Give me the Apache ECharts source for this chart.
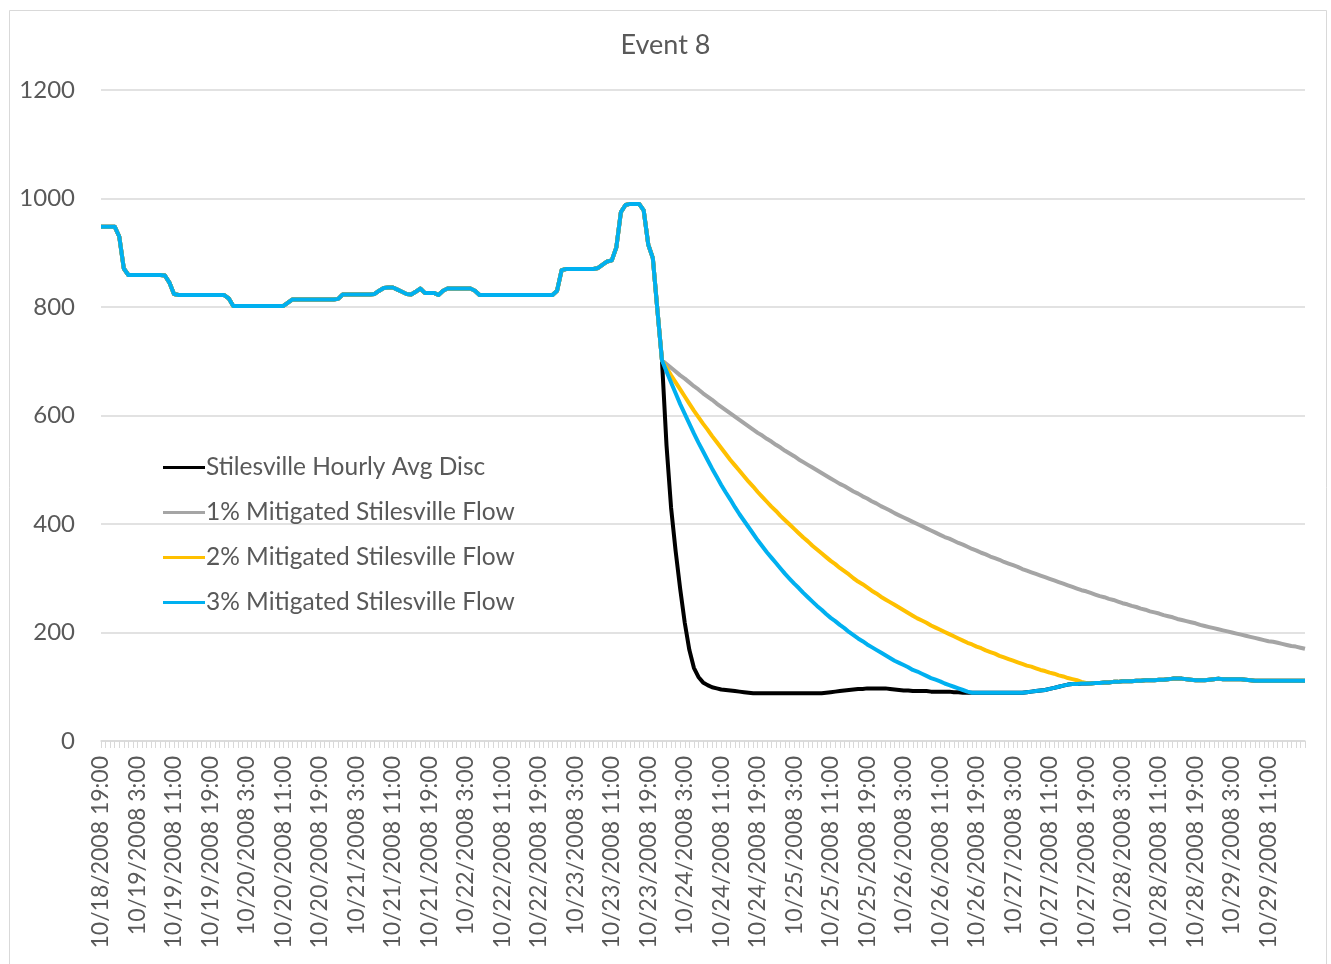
<!DOCTYPE html>
<html>
<head>
<meta charset="utf-8">
<script src="https://cdn.jsdelivr.net/npm/echarts@6/dist/echarts.min.js"></script>
<style>
html,body{margin:0;padding:0;background:#fff;}
#chart{width:1331px;height:964px;}
</style>
</head>
<body>
<div id="chart"></div>
<script>
// ---- data ----
const startLabel = '10/18/2008 19:00';
const hourCount = 265;
const seriesNames = ['Stilesville Hourly Avg Disc','1% Mitigated Stilesville Flow','2% Mitigated Stilesville Flow','3% Mitigated Stilesville Flow'];
const seriesColors = ['#000000','#A5A5A5','#FFC000','#00B0F0'];

const observed = [
948,948,948,948,930,871,859,859,859,859,
859,859,859,859,858,845,824,822,822,822,
822,822,822,822,822,822,822,822,816,802,
802,802,802,802,802,802,802,802,802,802,
802,808,814,814,814,814,814,814,814,814,
814,814,815,823,823,823,823,823,823,823,
824,830,835,836,836,832,828,824,823,828,
834,826,826,826,822,830,834,834,834,834,
834,834,830,822,822,822,822,822,822,822,
822,822,822,822,822,822,822,822,822,822,
830,868,870,870,870,870,870,870,870,872,
878,884,886,910,975,988,990,990,990,978,
915,890,795,702,545,430,350,280,218,168,
135,118,108,103,99,97,95,94,93,92,
91,90,89,88,88,88,88,88,88,88,
88,88,88,88,88,88,88,88,88,89,
90,91,92,93,94,95,96,96,97,97,
97,97,97,96,95,94,93,93,92,92,
92,92,91,91,91,91,91,90,90,89,
89,89,89,89,89,89,89,89,89,89,
89,89,89,90,91,92,93,94,96,98,
100,102,104,105,105,106,106,106,107,107,
108,108,109,109,110,110,110,111,111,112,
112,112,113,113,114,115,115,115,114,113,
112,112,112,113,114,115,114,114,114,114,
114,113,112,111,111,111,111,111,111,111,
111,111,111,111,111
];

// index where the mitigated flows leave the observed hydrograph
const mitigationStart = 123;

const mitigated1Tail = [
702,695,688,681,674,668,661,654,648,641,
635,629,622,616,610,604,598,592,586,580,
574,568,563,557,552,546,541,535,530,525,
519,514,509,504,499,494,489,484,479,474,
470,465,460,456,451,447,442,438,433,429,
425,420,416,412,408,404,400,396,392,388,
384,380,376,373,369,365,362,358,354,351,
347,344,340,337,334,330,327,324,321,317,
314,311,308,305,302,299,296,293,290,287,
284,281,278,276,273,270,267,265,262,260,
257,254,252,249,247,244,242,239,237,235,
232,230,228,225,223,221,219,217,214,212,
210,208,206,204,202,200,198,196,194,192,
190,188,186,184,183,181,179,177,175,174,
172,170
];

const mitigated2Tail = [
702,688,674,661,648,635,622,609,597,585,
574,562,551,540,529,518,508,498,488,478,
469,459,450,441,432,424,415,407,399,391,
383,375,368,360,353,346,339,332,326,319,
313,307,300,294,289,283,277,272,266,261,
256,251,246,241,236,231,226,222,218,213,
209,205,201,197,193,189,185,181,178,174,
171,167,164,161,157,154,151,148,145,142,
139,137,134,131,129,126,124,121,119,116,
114,112,109,107
];

const mitigated3Tail = [
702,681,661,641,621,603,585,567,550,534,
518,502,487,472,458,445,431,418,406,394,
382,370,359,348,338,328,318,308,299,290,
282,273,265,257,249,242,234,227,221,214,
208,201,195,189,184,178,173,168,163,158,
153,148,144,140,136,131,128,124,120,116,
113,110,106,103,100,97,94,91
];

const yTicks = [0,200,400,600,800,1000,1200];

// ---- build ----
function pad2(n){return (n<10?'0':'')+n;}
const categories = [];
(function(){
  const base = Date.UTC(2008,9,18,19,0,0);
  for(let i=0;i<hourCount;i++){
    const d = new Date(base + i*3600000);
    categories.push((d.getUTCMonth()+1)+'/'+d.getUTCDate()+'/'+d.getUTCFullYear()+' '+d.getUTCHours()+':'+pad2(d.getUTCMinutes()));
  }
})();

function withTail(tail){
  return observed.slice(0,mitigationStart).concat(tail).concat(observed.slice(mitigationStart+tail.length));
}
const seriesData = [observed, withTail(mitigated1Tail), withTail(mitigated2Tail), withTail(mitigated3Tail)];
const lineWidths = [4,4,4,4];

const FONT = 'Lato';
const TXT = '#595959';

const chart = echarts.init(document.getElementById('chart'), null, {renderer:'canvas'});
chart.setOption({
  animation:false,
  backgroundColor:'#ffffff',
  title:{
    text:'Event 8',
    left:'center',
    top:27,
    textStyle:{fontFamily:FONT,fontSize:27,fontWeight:'normal',color:TXT}
  },
  graphic:[{
    type:'rect',
    shape:{x:9.5,y:10.5,width:1317,height:970},
    style:{fill:null,stroke:'#D9D9D9',lineWidth:1},
    silent:true
  }],
  legend:{
    orient:'vertical',
    left:158,
    top:450,
    itemGap:20,
    itemWidth:42,
    itemHeight:3,
    icon:'rect',
    data:seriesNames,
    textStyle:{fontFamily:FONT,fontSize:24.5,color:TXT,lineHeight:24,padding:[0,0,0,-4]}
  },
  grid:{left:101,right:26,top:90,bottom:223,containLabel:false},
  xAxis:{
    type:'category',
    boundaryGap:false,
    data:categories,
    axisLine:{show:true,lineStyle:{color:'#D9D9D9',width:1.5}},
    axisTick:{show:true,interval:0,length:7,lineStyle:{color:'#D9D9D9',width:1}},
    axisLabel:{
      rotate:90,
      margin:15,
      interval:function(idx){return idx%8===0 && idx<hourCount-1;},
      fontFamily:FONT,fontSize:23,color:TXT
    },
    splitLine:{show:false}
  },
  yAxis:{
    type:'value',
    min:yTicks[0],
    max:yTicks[yTicks.length-1],
    interval:200,
    axisLine:{show:false},
    axisTick:{show:false},
    axisLabel:{margin:26,fontFamily:FONT,fontSize:24,color:TXT,formatter:function(v){return String(v);}},
    splitLine:{lineStyle:{color:'#D9D9D9',width:1.5}}
  },
  series:seriesNames.map(function(name,k){
    return {
      name:name,
      type:'line',
      data:seriesData[k],
      symbol:'none',
      showSymbol:false,
      color:seriesColors[k],
      lineStyle:{color:seriesColors[k],width:lineWidths[k],join:'round'},
      emphasis:{disabled:true}
    };
  })
});
</script>
</body>
</html>
